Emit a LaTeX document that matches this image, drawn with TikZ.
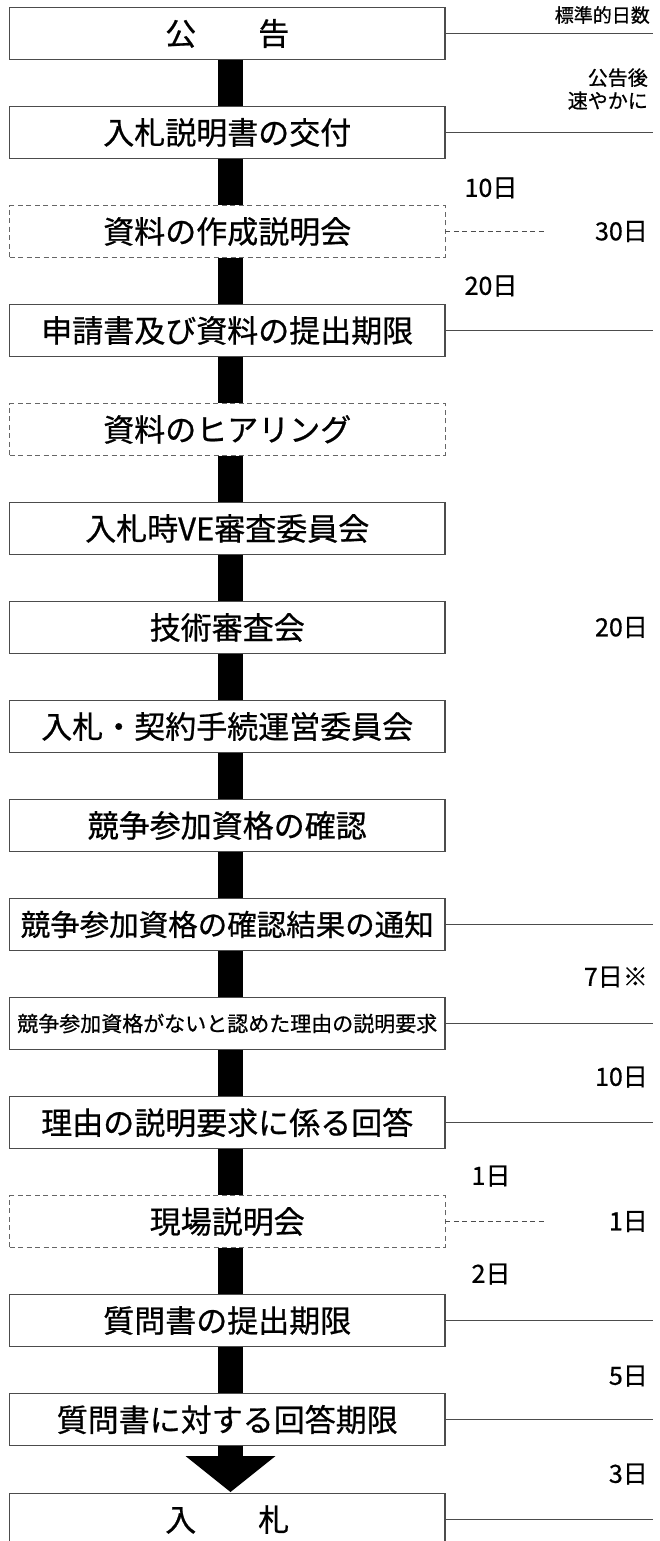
\documentclass[tikz,border=0pt]{standalone}
\usepackage{fontspec}
\setmainfont{Noto Sans CJK JP}[FakeBold=0.7]
\begin{document}
\begin{tikzpicture}[x=1pt,y=-1pt,
  stepbox/.style={draw=black!70, line width=1.3pt, minimum width=435.5pt, minimum height=51.5pt,
    inner sep=0pt, fill=white, font=\fontsize{31}{36}\selectfont},
  optbox/.style={stepbox, draw=black!60, line width=0.9pt, dash pattern=on 5pt off 3.5pt},
  smallbox/.style={stepbox, font=\fontsize{21}{26}\selectfont},
  bar/.style={line width=25pt, black},
  rline/.style={draw=black!70, line width=1pt},
  dline/.style={draw=black!70, line width=0.9pt, dash pattern=on 5pt off 3.5pt},
  lab/.style={inner sep=0pt, font=\fontsize{25}{30}\selectfont},
  head/.style={inner sep=0pt, font=\fontsize{19}{22}\selectfont},
]
\clip (0,0) rectangle (659,1541);
\useasboundingbox (0,0) rectangle (659,1541);
\fill[white] (0,0) rectangle (659,1541);

\coordinate (rx) at (653,0);
\coordinate (dx) at (545,0);

% boxes
\node[stepbox] (b0) at (227.25,33.5) {公\hspace{2em}告};
\node[stepbox] (b1) at (227.25,132.5) {入札説明書の交付};
\node[optbox] (b2) at (227.25,231.5) {資料の作成説明会};
\node[stepbox] (b3) at (227.25,330.5) {申請書及び資料の提出期限};
\node[optbox] (b4) at (227.25,429.5) {資料のヒアリング};
\node[stepbox] (b5) at (227.25,528.5) {入札時VE審査委員会};
\node[stepbox] (b6) at (227.25,627.5) {技術審査会};
\node[stepbox] (b7) at (227.25,726.5) {入札・契約手続運営委員会};
\node[stepbox] (b8) at (227.25,825.5) {競争参加資格の確認};
\node[stepbox, font=\fontsize{29.5}{36}\selectfont] (b9) at (227.25,924.5) {競争参加資格の確認結果の通知};
\node[smallbox] (b10) at (227.25,1023.5) {競争参加資格がないと認めた理由の説明要求};
\node[stepbox] (b11) at (227.25,1122.5) {理由の説明要求に係る回答};
\node[optbox] (b12) at (227.25,1221.5) {現場説明会};
\node[stepbox] (b13) at (227.25,1320.5) {質問書の提出期限};
\node[stepbox] (b14) at (227.25,1419.5) {質問書に対する回答期限};
\node[stepbox] (b15) at (227.25,1519.5) {入\hspace{2em}札};

% black connector bars
\foreach \a/\b in {b0/b1,b1/b2,b2/b3,b3/b4,b4/b5,b5/b6,b6/b7,b7/b8,b8/b9,b9/b10,b10/b11,b11/b12,b12/b13,b13/b14}{
  \draw[bar] ([xshift=3.25pt]\a.south) -- ([xshift=3.25pt]\b.north);
}
% final big arrow
\coordinate (ab) at (230.5,1456);
\coordinate (tip) at (230.5,1492);
\draw[bar] ([xshift=3.25pt]b14.south) -- (ab);
\fill[black] ([xshift=-45pt]ab) -- ([xshift=45pt]ab) -- (tip) -- cycle;

% right lines
\foreach \n in {b0,b1,b3,b9,b10,b11,b13,b14,b15}{
  \draw[rline] (\n.east) -- (\n.east -| rx);
}
\foreach \n in {b2,b12}{
  \draw[dline] (\n.east) -- (\n.east -| dx);
}

% labels
\node[head, anchor=east] (h0) at (650,15) {標準的日数};
\node[head, anchor=east, align=right, font=\fontsize{20}{23}\selectfont] (h1) at (648,89) {公告後\\速やかに};

\node[lab] (l1) at (491,188) {10日};
\node[lab] (l2) at (491,286) {20日};
\node[lab] (l3) at (491,1176) {1日};
\node[lab] (l4) at (491,1274) {2日};

\node[lab, anchor=east] (r1) at (648,231.5) {30日};
\node[lab, anchor=east] (r2) at (648,627.5) {20日};
\node[lab, anchor=east] (r3) at (648,977) {7日※};
\node[lab, anchor=east] (r4) at (648,1077) {10日};
\node[lab, anchor=east] (r5) at (648,1221.5) {1日};
\node[lab, anchor=east] (r6) at (648,1376) {5日};
\node[lab, anchor=east] (r7) at (648,1474) {3日};
\end{tikzpicture}
\end{document}
